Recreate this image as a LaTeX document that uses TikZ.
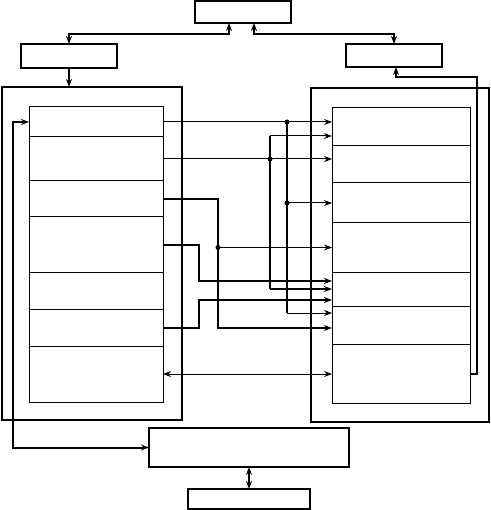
\documentclass[tikz,border=0pt]{standalone}
\usetikzlibrary{positioning,arrows.meta}
\begin{document}
\begin{tikzpicture}[
    x=1pt, y=-1pt,
    >={Stealth[length=8pt,width=6pt]},
    blk/.style={draw, line width=2pt, inner sep=0pt, outer sep=0pt},
    thinblk/.style={draw, line width=1.2pt, inner sep=0pt, outer sep=0pt},
    slot/.style={draw, line width=1pt, inner sep=0pt, outer sep=0pt},
    sig/.style={line width=1pt},
    bus/.style={line width=2pt}
]
\useasboundingbox (0,0) rectangle (490,510);

% control blocks
\node[blk, minimum width=96pt, minimum height=22pt] (top) at (243,12) {};
\node[blk, minimum width=96pt, minimum height=24pt] (lbox) at (69,56) {};
\node[blk, minimum width=96pt, minimum height=23pt] (rbox) at (394,55.5) {};

% frames
\node[blk, minimum width=180pt, minimum height=333pt] (lframe) at (92,253.5) {};
\node[blk, minimum width=178pt, minimum height=334pt] (rframe) at (400,255) {};

% slots
\foreach \n/\a/\b in {1/107/137, 2/137/181, 3/181/217, 4/217/272, 5/272/309, 6/309/346, 7/346/402}{
  \pgfmathsetmacro\h{\b-\a}
  \node[slot, minimum width=134pt, minimum height={\h pt}] (L\n) at (96,{(\a+\b)/2}) {};
}
\foreach \n/\a/\b in {1/108/146, 2/146/183, 3/183/223, 4/223/272, 5/272/306, 6/306/344, 7/344/403}{
  \pgfmathsetmacro\h{\b-\a}
  \node[slot, minimum width=138pt, minimum height={\h pt}] (R\n) at (401,{(\a+\b)/2}) {};
}

% lower blocks
\node[thinblk, minimum width=200pt, minimum height=39pt] (bot) at (249,447.5) {};
\node[thinblk, minimum width=122pt, minimum height=20pt] (bot2) at (249,499) {};

% rails and bus positions
\coordinate (lrail) at (13,0);
\coordinate (rrail) at (477,77);
\coordinate (busA) at (270,0);
\coordinate (busB) at (287,0);
\coordinate (busC) at (218,0);
\coordinate (busD) at (199,0);

% arrow targets
\coordinate (t1) at ([yshift=-9pt]R1.west);
\coordinate (t5a) at ([yshift=8pt]R5.west);
\coordinate (t5b) at ([yshift=-11pt]R5.west);
\coordinate (t6a) at ([yshift=12pt]R6.west);
\coordinate (t6b) at ([yshift=-3pt]R6.west);

% junctions
\coordinate (j1) at (busB |- L1.east);
\coordinate (j2) at (busA |- L2.east);
\coordinate (j3) at (busB |- R3.west);
\coordinate (j4) at (busC |- R4.west);

% top links
\draw[bus,<->] (lbox.north) -- ++(0,-10) -| ([xshift=-14pt]top.south);
\draw[bus,<->] (rbox.north) -- ++(0,-10) -| ([xshift=11pt]top.south);
\draw[bus,->] (lbox.south) -- (lbox.south |- lframe.north);
\draw[bus,<->] (bot.south) -- (bot2.north);

% loops
\draw[bus,<->] (L1.west) -- (L1.west -| lrail) |- (bot.west);
\draw[bus,->] (R7.east) -| (rrail) -| ([xshift=2pt]rbox.south);

% direct lines
\draw[sig,->] (L1.east) -- (L1.east -| R1.west);
\draw[sig,->] (L2.east) -- (L2.east -| R2.west);
\draw[sig,<->] (L7.east) -- (L7.east -| R7.west);

% bus B
\draw[bus] (j1) -- (j1 |- t6a);
\draw[sig,->] (j3) -- (R3.west);
\draw[sig,->] (j1 |- t6a) -- (t6a);

% bus A
\draw[bus] (busA |- t1) -- (busA |- R5.west);
\draw[sig,->] (busA |- t1) -- (t1);
\draw[bus,->] (busA |- R5.west) -- (R5.west);

% bus C
\draw[bus,->] (L3.east) -| (busC |- t6b) -- (t6b);
\draw[sig,->] (j4) -- (R4.west);

% bus D
\draw[bus,->] (L4.east) -| (busD |- t5a) -- (t5a);
\draw[bus,->] (L6.east) -| (busD |- t5b) -- (t5b);

\foreach \j in {j1,j2,j3,j4}
  \fill (\j) circle (2.5pt);

\end{tikzpicture}
\end{document}
